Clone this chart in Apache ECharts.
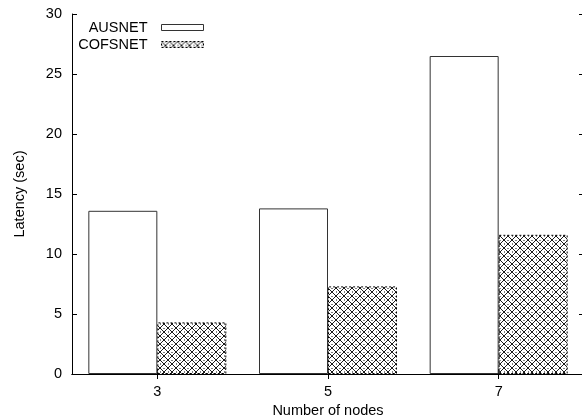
<!DOCTYPE html>
<html>
<head>
<meta charset="utf-8">
<script src="https://cdn.jsdelivr.net/npm/echarts@6/dist/echarts.min.js"></script>
<style>
html, body { margin: 0; padding: 0; background: #fff; }
#chart { width: 582px; height: 419px; }
</style>
</head>
<body>
<div id="chart"></div>
<script>
const nodes = ['3', '5', '7']
const ausnet = [13.6, 13.8, 26.5]
const cofsnet = [4.3, 7.3, 11.6]
const yTicks = { min: 0, max: 30, interval: 5 }

const font = '"Liberation Sans", Arial, Helvetica, sans-serif'
const fs = 14.5

// crosshatch tile for the COFSNET bars
function hatch() {
    const c = document.createElement('canvas')
    c.width = 8
    c.height = 8
    const ctx = c.getContext('2d')
    ctx.fillStyle = '#fff'
    ctx.fillRect(0, 0, 8, 8)
    ctx.strokeStyle = '#000'
    ctx.lineWidth = 0.9
    ctx.beginPath()
    ctx.moveTo(0, 0); ctx.lineTo(8, 8)
    ctx.moveTo(8, 0); ctx.lineTo(0, 8)
    ctx.stroke()
    ctx.fillStyle = '#000'
    ctx.fillRect(3.5, 0, 1, 1)
    ctx.fillRect(0, 3.5, 1, 1)
    return c
}

const chart = echarts.init(document.getElementById('chart'), null, { renderer: 'canvas' })

const tick = { show: true, inside: true, length: 5, lineStyle: { color: '#000' } }
const line = { show: true, lineStyle: { color: '#000', width: 1 } }

const legendBase = {
    orient: 'horizontal',
    align: 'right',
    right: 373,
    itemWidth: 42,
    itemHeight: 6,
    icon: 'rect',
    selectedMode: false,
    textStyle: { fontFamily: font, fontSize: fs, color: '#000', padding: [0, 9, 0, 0] }
}

const option = {
    animation: false,
    backgroundColor: '#fff',
    grid: { left: 72, top: 14, width: 512, height: 360, outerBoundsMode: 'none', containLabel: false },
    legend: [
        Object.assign({}, legendBase, { top: 15, data: ['AUSNET'], itemStyle: { borderWidth: 1, borderColor: '#333' } }),
        Object.assign({}, legendBase, { top: 32, data: ['COFSNET'], itemStyle: { borderWidth: 1, borderColor: '#000', borderType: [2, 2] } })
    ],
    xAxis: [{
        type: 'category',
        data: nodes,
        name: 'Number of nodes',
        nameLocation: 'middle',
        nameGap: 27,
        nameTextStyle: { fontFamily: font, fontSize: fs, color: '#000' },
        axisLine: line,
        axisTick: Object.assign({ alignWithLabel: true }, tick),
        axisLabel: { fontFamily: font, fontSize: fs, color: '#000', margin: 10 },
        splitLine: { show: false }
    }, {
        type: 'category',
        data: nodes,
        position: 'top',
        axisLine: line,
        axisTick: Object.assign({ alignWithLabel: true }, tick),
        axisLabel: { show: false },
        splitLine: { show: false }
    }],
    yAxis: [{
        type: 'value',
        min: yTicks.min,
        max: yTicks.max,
        interval: yTicks.interval,
        name: 'Latency (sec)',
        nameLocation: 'middle',
        nameGap: 45,
        nameTextStyle: { fontFamily: font, fontSize: fs, color: '#000' },
        axisLine: line,
        axisTick: tick,
        axisLabel: { fontFamily: font, fontSize: fs, color: '#000', margin: 10 },
        splitLine: { show: false }
    }, {
        type: 'value',
        min: yTicks.min,
        max: yTicks.max,
        interval: yTicks.interval,
        position: 'right',
        axisLine: line,
        axisTick: tick,
        axisLabel: { show: false },
        splitLine: { show: false }
    }],
    series: [{
        name: 'AUSNET',
        type: 'bar',
        data: ausnet,
        barWidth: 69,
        barGap: '0%',
        itemStyle: { color: '#fff', borderColor: '#333', borderWidth: 1 }
    }, {
        name: 'COFSNET',
        type: 'bar',
        data: cofsnet,
        barWidth: 69,
        barGap: '0%',
        itemStyle: {
            color: { image: hatch(), repeat: 'repeat' },
            borderColor: '#000',
            borderWidth: 1,
            borderType: [2, 2]
        }
    }]
}

chart.setOption(option)
</script>
</body>
</html>
